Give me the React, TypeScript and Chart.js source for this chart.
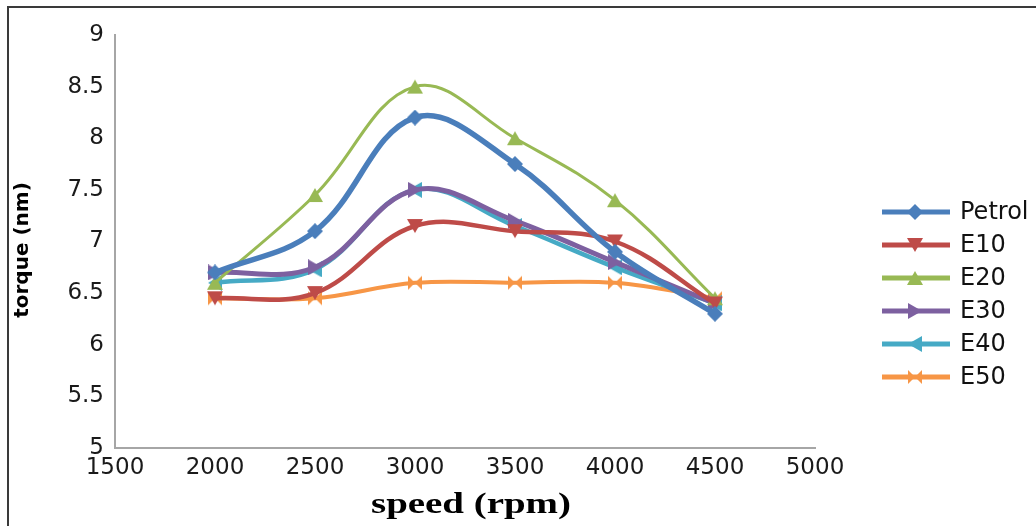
import React, { useEffect, useRef } from "react";
import { Chart, registerables } from "chart.js";

Chart.register(...registerables);

const speeds = [2000, 2500, 3000, 3500, 4000, 4500];
const petrol = [6.7, 7.1, 8.2, 7.75, 6.9, 6.3];
const e10 = [6.45, 6.5, 7.15, 7.1, 7.0, 6.4];
const e20 = [6.6, 7.45, 8.5, 8.0, 7.4, 6.45];
const e30 = [6.7, 6.75, 7.5, 7.2, 6.8, 6.4];
const e40 = [6.6, 6.73, 7.5, 7.15, 6.75, 6.4];
const e50 = [6.45, 6.45, 6.6, 6.6, 6.6, 6.45];

const xTickLabels = ["1500", "2000", "2500", "3000", "3500", "4000", "4500", "5000"];
const yTickLabels = ["5", "5.5", "6", "6.5", "7", "7.5", "8", "8.5", "9"];

const seriesNames = ["Petrol", "E10", "E20", "E30", "E40", "E50"];
const seriesValues = [petrol, e10, e20, e30, e40, e50];
const seriesColors = ["#4A7EBB", "#BE4B48", "#98B954", "#7D60A0", "#46AAC5", "#F79646"];
const lineWidths = [5.5, 4.5, 3, 5, 4.5, 4];
const markerKinds = ["diamond", "down", "up", "right", "left", "bowtie"];

function makeMarker(kind: string, color: string, s: number) {
  const c = document.createElement("canvas");
  c.width = s;
  c.height = s;
  const ctx = c.getContext("2d")!;
  ctx.fillStyle = color;
  const h = s / 2;
  const poly = (pts: number[][]) => {
    ctx.beginPath();
    ctx.moveTo(pts[0][0], pts[0][1]);
    for (let i = 1; i < pts.length; i++) ctx.lineTo(pts[i][0], pts[i][1]);
    ctx.closePath();
    ctx.fill();
  };
  if (kind === "diamond") poly([[h, 0], [s, h], [h, s], [0, h]]);
  else if (kind === "down") poly([[0, 1], [s, 1], [h, s - 1]]);
  else if (kind === "up") poly([[h, 1], [s, s - 1], [0, s - 1]]);
  else if (kind === "right") poly([[1, 0], [s - 1, h], [1, s]]);
  else if (kind === "left") poly([[s - 1, 0], [1, h], [s - 1, s]]);
  else {
    poly([[1, 1], [h, h], [1, s - 1]]);
    poly([[s - 1, 1], [h, h], [s - 1, s - 1]]);
  }
  return c;
}

export default function App() {
  const ref = useRef<HTMLCanvasElement>(null);
  useEffect(() => {
    if (!ref.current) return;
    Chart.defaults.font.family = "'DejaVu Sans', sans-serif";
    const markers = markerKinds.map((k, i) => makeMarker(k, seriesColors[i], 16));
    const datasets = seriesNames.map((name, i) => ({
      label: name,
      data: speeds.map((s, j) => ({ x: s, y: seriesValues[i][j] })),
      borderColor: seriesColors[i],
      backgroundColor: seriesColors[i],
      borderWidth: lineWidths[i],
      pointStyle: markers[i],
      pointRadius: 8,
      pointBorderWidth: 0,
      tension: 0.38,
      fill: false,
    }));

    const legendPlugin = {
      id: "customLegend",
      afterDraw(chart: any) {
        const ctx = chart.ctx;
        ctx.save();
        const rows = [212, 245, 278, 311, 344, 377];
        seriesNames.forEach((name, i) => {
          const y = rows[i];
          ctx.strokeStyle = seriesColors[i];
          ctx.lineWidth = 5;
          ctx.beginPath();
          ctx.moveTo(882, y);
          ctx.lineTo(950, y);
          ctx.stroke();
          const m = markers[i];
          ctx.drawImage(m, 915 - m.width / 2, y - m.height / 2);
          ctx.fillStyle = "#111";
          ctx.font = "24px 'DejaVu Sans'";
          ctx.textBaseline = "middle";
          ctx.textAlign = "left";
          ctx.fillText(name, 960, y + 1);
        });
        ctx.restore();

        // x axis title, slightly widened like the reference
        ctx.save();
        ctx.font = "bold 30px 'Liberation Serif'";
        ctx.fillStyle = "#000";
        ctx.textAlign = "center";
        ctx.textBaseline = "middle";
        const txt = "speed (rpm)";
        const w = ctx.measureText(txt).width;
        ctx.translate(471, 505);
        ctx.scale(200 / w, 1);
        ctx.fillText(txt, 0, 0);
        ctx.restore();

        // y axis title
        ctx.save();
        ctx.font = "bold 20px 'DejaVu Sans'";
        ctx.fillStyle = "#000";
        ctx.textAlign = "center";
        ctx.textBaseline = "middle";
        ctx.translate(23, 250);
        ctx.rotate(-Math.PI / 2);
        ctx.fillText("torque (nm)", 0, 0);
        ctx.restore();
      },
    };

    const borderPlugin = {
      id: "frame",
      beforeDraw(chart: any) {
        const ctx = chart.ctx;
        ctx.save();
        ctx.fillStyle = "#fff";
        ctx.fillRect(0, 0, chart.width, chart.height);
        ctx.strokeStyle = "#3a3a3a";
        ctx.lineWidth = 2;
        ctx.beginPath();
        ctx.moveTo(8, 530);
        ctx.lineTo(8, 7);
        ctx.lineTo(1040, 7);
        ctx.stroke();
        ctx.restore();
      },
    };

    const chart = new Chart(ref.current, {
      type: "line",
      data: { datasets },
      options: {
        animation: false,
        responsive: false,
        devicePixelRatio: 1,
        layout: { padding: { left: 0, right: 221, top: 35, bottom: 0 } },
        plugins: { legend: { display: false }, tooltip: { enabled: false } },
        scales: {
          x: {
            type: "linear",
            min: 1500,
            max: 5000,
            afterBuildTicks(scale: any) {
              scale.ticks = xTickLabels.map((v) => ({ value: Number(v) }));
            },
            afterFit(scale: any) {
              scale.height = 78;
            },
            grid: { display: false, drawTicks: false },
            border: { color: "#a6a6a6", width: 2 },
            ticks: {
              padding: 6,
              color: "#1a1a1a",
              font: { size: 23 },
              maxRotation: 0,
              callback: (v: any) => String(v),
            },
          },
          y: {
            min: 5,
            max: 9,
            afterBuildTicks(scale: any) {
              scale.ticks = yTickLabels.map((v) => ({ value: Number(v) }));
            },
            afterFit(scale: any) {
              scale.width = 115;
            },
            grid: { display: false, drawTicks: false },
            border: { color: "#a6a6a6", width: 2 },
            ticks: {
              padding: 11,
              color: "#1a1a1a",
              font: { size: 23 },
              callback: (v: any) => String(v),
            },
          },
        },
      },
      plugins: [borderPlugin, legendPlugin],
    });
    return () => chart.destroy();
  }, []);

  return (
    <div style={{ position: "fixed", left: 0, top: 0, width: 1036, height: 526, background: "#fff" }}>
      <canvas ref={ref} width={1036} height={526} style={{ width: 1036, height: 526 }} />
    </div>
  );
}
